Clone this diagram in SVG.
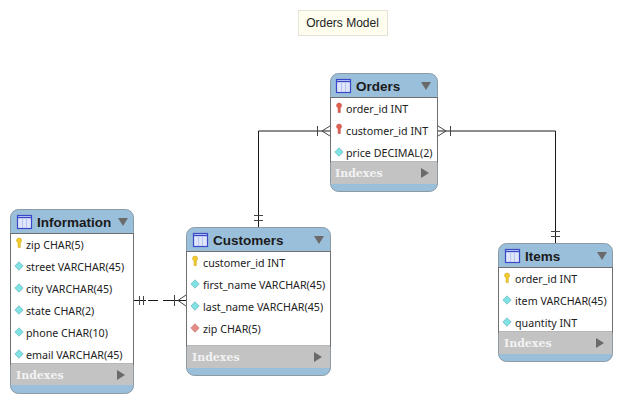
<svg xmlns="http://www.w3.org/2000/svg" width="622" height="403" viewBox="0 0 622 403">
<style>
text{font-family:"Noto Sans","DejaVu Sans",sans-serif}
.frame{fill:#9abfda;stroke:#8b9aa5;stroke-width:1}
.body{fill:#fff;stroke:#6f6f6f;stroke-width:1}
.idx{fill:#c3c3c3}
.title{font-size:13.5px;font-weight:700;fill:#1a1a1a;font-family:"Liberation Sans",sans-serif}
.col{font-size:10.7px;fill:#222}
.ixt{font-size:11px;font-weight:700;fill:#f2f2f2;font-family:"DejaVu Serif",serif}
.line{fill:none;stroke:#1a1a1a;stroke-width:1}
.mark{fill:none;stroke:#444;stroke-width:1}
.tri{fill:#6a6a6a}
</style>
<defs>
<g id="tbl"><rect x="0.500" y="0.500" width="14" height="13" fill="#dfe6fb" stroke="#3b48c8" stroke-width="1.200"/><path d="M1 2.500h13" stroke="#3b48c8" stroke-width="1.400"/><path d="M5.500 4v9M9.500 4v9" stroke="#b5c3ee" stroke-width="1"/></g>
<g id="key"><path d="M0-5a2.600 2.600 0 0 1 2.600 2.600c0 1.200-.8 1.800-1.300 2.400v4.600h-2.200v-4.600c-.6-.6-1.600-1.200-1.600-2.400A2.600 2.600 0 0 1 0-5z" fill="#f2cc2a" stroke="#c49c10" stroke-width=".5"/></g>
<g id="fkey"><path d="M0-5a2.600 2.600 0 0 1 2.600 2.600c0 1.200-.8 1.800-1.300 2.400v4.600h-2.200v-4.600c-.6-.6-1.600-1.200-1.600-2.400A2.600 2.600 0 0 1 0-5z" fill="#e0604e" stroke="#b44" stroke-width=".5"/></g>
<path id="dia" d="M0-4.200L4.200 0L0 4.200L-4.200 0Z" fill="#7fe3e3" stroke="#5ba5b5" stroke-width=".6"/>
<path id="rdia" d="M0-4.200L4.200 0L0 4.200L-4.200 0Z" fill="#e58b84" stroke="#b56b6b" stroke-width=".6"/>
</defs>

<g id="connectors">
<path class="line" d="M330 131H258.500V227"/>
<path class="line" d="M438 131H555.500V243"/>
<path class="line" d="M134 300.500H146M148 300.500H158M163 300.500H186"/>
<path class="mark" d="M317.500 126V136M330 126L322 131L330 136M254 215.500H263M254 220.500H263"/>
<path class="mark" d="M450.500 126V136M438 126L446 131L438 136M551 231.500H560M551 236.500H560"/>
<path class="mark" d="M139.500 296V305M143.500 296V305M174.500 295V306M186 295L178 300.500L186 306"/>
</g>

<g id="title-note">
<rect x="298.500" y="10.500" width="89" height="25" fill="#fefdee" stroke="#e3e3d8"/>
<text x="342.500" y="27" text-anchor="middle" style="font-size:12px;font-family:'Liberation Sans',sans-serif" fill="#222">Orders Model</text>
</g>

<g id="orders">
<rect class="frame" x="330.500" y="73.500" width="107" height="118" rx="8"/>
<rect class="body" x="330.500" y="97.500" width="107" height="64.500"/>
<rect class="idx" x="331" y="162" width="106" height="22"/>
<use href="#tbl" x="336" y="79"/>
<text class="title" x="356" y="91">Orders</text>
<path class="tri" d="M421 82h10l-5 8z"/>
<use href="#fkey" x="339" y="108"/><text class="col" x="346" y="113">order_id INT</text>
<use href="#fkey" x="339" y="129"/><text class="col" x="346" y="135">customer_id INT</text>
<use href="#dia" x="339" y="152"/><text class="col" x="346" y="157">price DECIMAL(2)</text>
<text class="ixt" x="335" y="177">Indexes</text>
<path class="tri" d="M421 168l8 5-8 5z"/>
</g>

<g id="information">
<rect class="frame" x="10.500" y="209.500" width="123" height="184" rx="8"/>
<rect class="body" x="10.500" y="233.500" width="123" height="130.500"/>
<rect class="idx" x="11" y="364" width="122" height="21"/>
<use href="#tbl" x="17" y="215"/>
<text class="title" x="37" y="227">Information</text>
<path class="tri" d="M118 218h10l-5 8z"/>
<use href="#key" x="19" y="243"/><text class="col" x="26" y="249">zip CHAR(5)</text>
<use href="#dia" x="19" y="266"/><text class="col" x="26" y="271">street VARCHAR(45)</text>
<use href="#dia" x="19" y="288"/><text class="col" x="26" y="293">city VARCHAR(45)</text>
<use href="#dia" x="19" y="310"/><text class="col" x="26" y="315">state CHAR(2)</text>
<use href="#dia" x="19" y="332"/><text class="col" x="26" y="337">phone CHAR(10)</text>
<use href="#dia" x="19" y="354"/><text class="col" x="26" y="359">email VARCHAR(45)</text>
<text class="ixt" x="16" y="379">Indexes</text>
<path class="tri" d="M117 370l8 5-8 5z"/>
</g>

<g id="customers">
<rect class="frame" x="186.500" y="227.500" width="144" height="148" rx="8"/>
<rect class="body" x="186.500" y="251.500" width="144" height="94.500"/>
<rect class="idx" x="187" y="346" width="143" height="22"/>
<use href="#tbl" x="193" y="233"/>
<text class="title" x="213" y="245">Customers</text>
<path class="tri" d="M314 236h10l-5 8z"/>
<use href="#key" x="195" y="261"/><text class="col" x="203" y="267">customer_id INT</text>
<use href="#dia" x="195" y="284"/><text class="col" x="203" y="289">first_name VARCHAR(45)</text>
<use href="#dia" x="195" y="306"/><text class="col" x="203" y="311">last_name VARCHAR(45)</text>
<use href="#rdia" x="195" y="328"/><text class="col" x="203" y="333">zip CHAR(5)</text>
<text class="ixt" x="192" y="361">Indexes</text>
<path class="tri" d="M314 352l8 5-8 5z"/>
</g>

<g id="items">
<rect class="frame" x="498.500" y="243.500" width="114" height="118" rx="8"/>
<rect class="body" x="498.500" y="267.500" width="114" height="64.500"/>
<rect class="idx" x="499" y="332" width="113" height="22"/>
<use href="#tbl" x="505" y="249"/>
<text class="title" x="525" y="261">Items</text>
<path class="tri" d="M597 252h10l-5 8z"/>
<use href="#key" x="507" y="278"/><text class="col" x="515" y="283">order_id INT</text>
<use href="#dia" x="507" y="300"/><text class="col" x="515" y="305">item VARCHAR(45)</text>
<use href="#dia" x="507" y="322"/><text class="col" x="515" y="327">quantity INT</text>
<text class="ixt" x="504" y="347">Indexes</text>
<path class="tri" d="M596 338l8 5-8 5z"/>
</g>
</svg>
